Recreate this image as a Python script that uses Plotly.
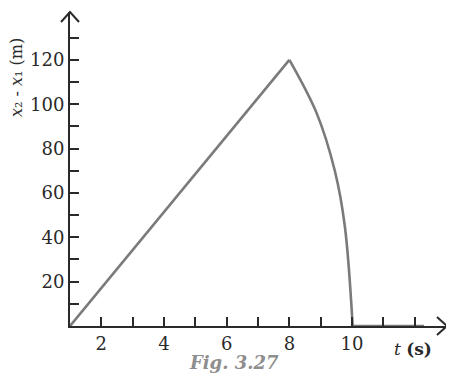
import plotly.graph_objects as go

# Data
t_line = [1, 8]
v_line = [0, 120]
t_curve = [8, 8.87, 9.45, 9.77, 10.02]
v_curve = [120, 96, 70, 45, 0]
t_tail = [10.02, 12.3]
v_tail = [0, 0]

x_tick_vals = [2, 3, 4, 5, 6, 7, 8, 9, 10, 11, 12]
x_tick_text = ["2", "", "4", "", "6", "", "8", "", "10", "", ""]
y_tick_vals = [10, 20, 30, 40, 50, 60, 70, 80, 90, 100, 110, 120, 130]
y_tick_text = ["", "20", "", "40", "", "60", "", "80", "", "100", "", "120", ""]

LINE = "#7a7a7a"
AX = "#2a2a2a"
FONT = "DejaVu Serif"

fig = go.Figure()
fig.add_trace(go.Scatter(x=t_line, y=v_line, mode="lines",
                         line=dict(color=LINE, width=2.6), showlegend=False))
fig.add_trace(go.Scatter(x=t_curve, y=v_curve, mode="lines",
                         line=dict(color=LINE, width=2.6, shape="spline", smoothing=1.0),
                         showlegend=False))
fig.add_trace(go.Scatter(x=t_tail, y=v_tail, mode="lines",
                         line=dict(color=LINE, width=2.6), showlegend=False))

# The page body has an 8px margin, so everything is laid out 8px up/left
OFF = 8
W, H = 454 - OFF, 391 - OFF
ml, mr, mt, mb = 70 - OFF, 7, 12 - OFF, 65
fig.update_layout(
    width=W, height=H,
    margin=dict(l=ml, r=mr, t=mt, b=mb, autoexpand=False),
    paper_bgcolor="white", plot_bgcolor="white",
    font=dict(family=FONT, color=AX, size=17),
    xaxis=dict(range=[1, 13.03], showgrid=False, zeroline=False,
               showline=True, linecolor=AX, linewidth=2,
               ticks="inside", ticklen=9, tickwidth=2, tickcolor=AX,
               tickvals=x_tick_vals, ticktext=x_tick_text,
               tickfont=dict(family=FONT, size=18, color=AX)),
    yaxis=dict(range=[0, 141.6], showgrid=False, zeroline=False,
               showline=True, linecolor=AX, linewidth=2,
               ticks="inside", ticklen=9, tickwidth=2, tickcolor=AX,
               tickvals=y_tick_vals, ticktext=y_tick_text,
               tickfont=dict(family=FONT, size=18, color=AX)),
)

pw = W - ml - mr
ph = H - mt - mb


def px(xp):
    # reference-picture pixel x -> paper coordinate
    return (xp - OFF - ml) / pw


def py(yp):
    return (H - mb - (yp - OFF)) / ph


# arrowheads (open chevrons)
fig.add_shape(type="path", xref="paper", yref="paper",
              path=f"M {px(437)} {py(317)} L {px(447)} {py(326)} L {px(437)} {py(335)}",
              line=dict(color=AX, width=2))
fig.add_shape(type="path", xref="paper", yref="paper",
              path=f"M {px(61)} {py(22)} L {px(70)} {py(12)} L {px(79)} {py(22)}",
              line=dict(color=AX, width=2))

fig.add_annotation(xref="paper", yref="paper", x=px(17), y=py(78),
                   xanchor="center", yanchor="middle",
                   text="<i>x</i>₂ - <i>x</i>₁ (m)",
                   textangle=-90, showarrow=False,
                   font=dict(family=FONT, size=16, color=AX))
fig.add_annotation(xref="paper", yref="paper", x=px(392), y=py(349),
                   xanchor="left", yanchor="middle",
                   text="<i>t</i> <b>(s)</b>", showarrow=False,
                   font=dict(family=FONT, size=17, color=AX))
fig.add_annotation(xref="paper", yref="paper", x=px(234), y=py(375),
                   text="<b><i>Fig. 3.27</i></b>", showarrow=False,
                   font=dict(family=FONT, size=18, color="#8e8e8e"))

fig.write_html("out.html")
